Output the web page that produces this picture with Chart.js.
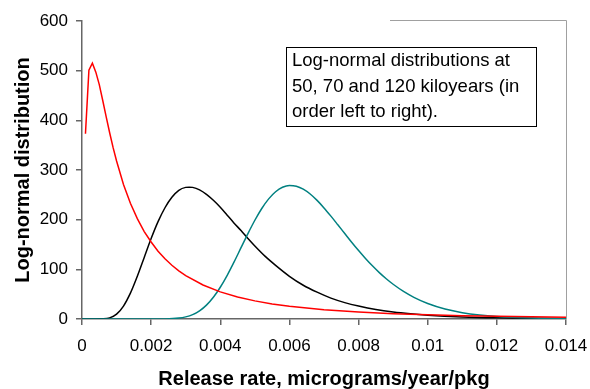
<!DOCTYPE html>
<html>
<head>
<meta charset="utf-8">
<script src="https://cdn.jsdelivr.net/npm/chart.js@4.4.1/dist/chart.umd.min.js"></script>
<style>
  body { margin: 0; background: #fff; }
  #grafico { display: block; }
</style>
</head>
<body>
<canvas id="grafico" width="590" height="389"></canvas>
<script>
// Datos
const xTickValues = [0, 0.002, 0.004, 0.006, 0.008, 0.01, 0.012, 0.014];
const xTickLabels = ["0", "0.002", "0.004", "0.006", "0.008", "0.01", "0.012", "0.014"];
const yTickValues = [0, 100, 200, 300, 400, 500, 600];
const yTickLabels = ["0", "100", "200", "300", "400", "500", "600"];

// 50 kiloyears (rojo)
const redX = [0.0001, 0.0002, 0.0003, 0.0004, 0.0005, 0.0006, 0.0007, 0.0008, 0.0009, 0.001,
  0.0012, 0.0014, 0.0016, 0.0018, 0.002, 0.0022, 0.0024, 0.0026, 0.0028, 0.003,
  0.0035, 0.004, 0.0045, 0.005, 0.0055, 0.006, 0.007, 0.008, 0.009, 0.01,
  0.011, 0.012, 0.013, 0.014];
const redY = [373, 501, 515, 497, 472, 440, 407, 375, 345, 318,
  271, 233, 202, 176, 155, 136.5, 121.3, 108.3, 97.1, 87.5,
  68.4, 54.6, 44.3, 36.5, 30.4, 25.6, 18.7, 14, 10.8, 8.4,
  6.7, 5.4, 4.5, 3.7];

// 70 kiloyears (negro)
const blackX = [0, 0.0004, 0.0006, 0.0008, 0.001, 0.0012, 0.0014, 0.0016, 0.0018, 0.002,
  0.0022, 0.0024, 0.0026, 0.0028, 0.003, 0.0031, 0.0032, 0.0034, 0.0036, 0.0038,
  0.004, 0.0042, 0.0044, 0.0046, 0.0048, 0.005, 0.0053, 0.0056, 0.006, 0.0064,
  0.0068, 0.0072, 0.0076, 0.008, 0.0085, 0.009, 0.0095, 0.01, 0.011, 0.012,
  0.013, 0.014];
const blackY = [0, 0, 0.3, 2.3, 9.7, 26, 52, 86, 124, 162,
  196, 224, 245, 259, 265, 265.5, 265, 260, 251, 239,
  225, 209, 193, 178, 162, 147, 126, 108, 86, 68,
  54, 42, 33, 26, 19, 14, 10.4, 7.7, 4.2, 2.3,
  1.3, 0.7];

// 120 kiloyears (verde azulado)
const tealX = [0, 0.001, 0.002, 0.0024, 0.0028, 0.003, 0.0032, 0.0034, 0.0036, 0.0038,
  0.004, 0.0042, 0.0044, 0.0046, 0.0048, 0.005, 0.0052, 0.0054, 0.0056, 0.0058,
  0.006, 0.0062, 0.0064, 0.0066, 0.0068, 0.007, 0.0072, 0.0074, 0.0076, 0.0078,
  0.008, 0.0082, 0.0084, 0.0086, 0.0088, 0.009, 0.0093, 0.0096, 0.01, 0.0105,
  0.011, 0.0115, 0.012, 0.013, 0.014];
const tealY = [0, 0, 0, 0.2, 1.8, 4.3, 8.8, 16.4, 27.9, 43.7,
  63.9, 88, 115, 143.6, 172, 198.8, 222.5, 241.9, 256.3, 265.3,
  268.9, 267.4, 261.5, 251.7, 238.8, 223.7, 207.1, 189.7, 172.1, 154.6,
  137.8, 121.9, 107.1, 93.4, 81.1, 70, 55.6, 43.7, 31.3, 20.2,
  12.8, 8, 5, 1.9, 0.7];

const notaLineas = [
  "Log-normal distributions at",
  "50, 70 and 120 kiloyears (in",
  "order left to right)."
];

const fuente = "'Liberation Sans', Arial, sans-serif";

function puntos(xs, ys) {
  return xs.map((x, i) => ({ x: x, y: ys[i] }));
}

// Caja de texto y borde gris del área de trazado
const notaPlugin = {
  id: "nota",
  afterDraw(chart) {
    const ctx = chart.ctx;
    const a = chart.chartArea;
    ctx.save();
    ctx.strokeStyle = "#a0a0a0";
    ctx.lineWidth = 1;
    ctx.beginPath();
    ctx.moveTo(390, Math.round(a.top) - 0.5);
    ctx.lineTo(Math.round(a.right) + 0.5, Math.round(a.top) - 0.5);
    ctx.lineTo(Math.round(a.right) + 0.5, a.bottom);
    ctx.stroke();

    ctx.fillStyle = "#fff";
    ctx.fillRect(286, 47, 250, 79);
    ctx.strokeStyle = "#000";
    ctx.strokeRect(286.5, 47.5, 250, 79);
    ctx.fillStyle = "#000";
    ctx.font = "18.5px " + fuente;
    ctx.textBaseline = "alphabetic";
    notaLineas.forEach((t, i) => {
      ctx.fillText(t, 292, 66 + i * 25.7);
    });
    ctx.restore();
  }
};

let ctx = document.getElementById("grafico").getContext("2d");

new Chart(ctx, {
  type: "line",
  data: {
    datasets: [
      {
        label: "50 ky",
        data: puntos(redX, redY),
        borderColor: "#ff0000",
        borderWidth: 1.5,
        pointRadius: 0,
        tension: 0
      },
      {
        label: "120 ky",
        data: puntos(tealX, tealY),
        borderColor: "#008080",
        borderWidth: 1.5,
        pointRadius: 0,
        cubicInterpolationMode: "monotone"
      },
      {
        label: "70 ky",
        data: puntos(blackX, blackY),
        borderColor: "#000000",
        borderWidth: 1.5,
        pointRadius: 0,
        cubicInterpolationMode: "monotone"
      }
    ]
  },
  options: {
    responsive: false,
    animation: false,
    layout: { padding: { left: 0, top: 21, right: 24, bottom: 0 } },
    plugins: {
      legend: { display: false },
      tooltip: { enabled: false }
    },
    scales: {
      x: {
        type: "linear",
        min: 0,
        max: 0.014,
        afterFit: s => {
          s.height = 70;
          s.paddingLeft = 0;
          s.paddingRight = 0;
        },
        afterBuildTicks: s => { s.ticks = xTickValues.map(v => ({ value: v })); },
        border: { color: "#666", width: 1.5 },
        grid: { drawOnChartArea: false, tickLength: 6, color: "#666", lineWidth: 1.5 },
        ticks: {
          color: "#000",
          padding: 11,
          maxRotation: 0,
          font: { family: fuente, size: 17 },
          callback: (v, i) => xTickLabels[i]
        },
        title: {
          display: true,
          text: "Release rate, micrograms/year/pkg",
          color: "#000",
          font: { family: fuente, size: 20, weight: "bold", lineHeight: 1 },
          padding: { top: 0, bottom: 0 }
        }
      },
      y: {
        min: 0,
        max: 600,
        afterFit: s => {
          s.width = 82;
          s.paddingTop = 0;
          s.paddingBottom = 0;
        },
        afterBuildTicks: s => { s.ticks = yTickValues.map(v => ({ value: v })); },
        border: { color: "#666", width: 1.5 },
        grid: { drawOnChartArea: false, tickLength: 6, color: "#666", lineWidth: 1.5 },
        ticks: {
          color: "#000",
          padding: 8,
          font: { family: fuente, size: 17 },
          callback: (v, i) => yTickLabels[i]
        },
        title: {
          display: true,
          text: "Log-normal distribution",
          color: "#000",
          font: { family: fuente, size: 20, weight: "bold", lineHeight: 1 },
          padding: { top: 13, bottom: 0 }
        }
      }
    }
  },
  plugins: [notaPlugin]
});
</script>
</body>
</html>
